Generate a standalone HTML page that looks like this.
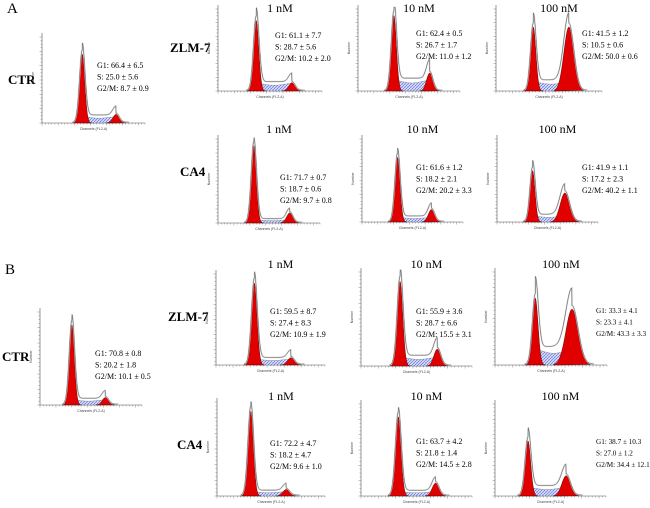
<!DOCTYPE html>
<html><head><meta charset="utf-8">
<style>
html,body{margin:0;padding:0;background:#fff;}
svg{display:block;font-family:"Liberation Serif",serif;}
</style></head>
<body>
<svg id="fig" width="650" height="508" viewBox="0 0 650 508" xmlns="http://www.w3.org/2000/svg">
<defs>
<pattern id="hatch" width="3" height="3" patternUnits="userSpaceOnUse">
<rect width="3" height="3" fill="#dfe3ff"/>
<path d="M0,3 L3,0" stroke="#5566cc" stroke-width="0.6"/>
<path d="M0,0 L3,3" stroke="#8899dd" stroke-width="0.4"/>
</pattern>
</defs>
<text x="7" y="13" font-size="15">A</text>
<text x="5" y="274" font-size="15">B</text>
<text x="8" y="84" font-size="13" font-weight="bold">CTR</text>
<text x="170" y="52" font-size="13" font-weight="bold">ZLM-7</text>
<text x="180" y="176" font-size="13" font-weight="bold">CA4</text>
<text x="2" y="361" font-size="13" font-weight="bold">CTR</text>
<text x="168" y="321" font-size="13" font-weight="bold">ZLM-7</text>
<text x="177" y="449" font-size="13" font-weight="bold">CA4</text>
<g id="panels"></g>
</svg>
<script>
const panelTitles = ["", "1 nM","10 nM","100 nM","1 nM","10 nM","100 nM", "", "1 nM","10 nM","100 nM","1 nM","10 nM","100 nM"];
const g1Values = ["66.4 ± 6.5","61.1 ± 7.7","62.4 ± 0.5","41.5 ± 1.2","71.7 ± 0.7","61.6 ± 1.2","41.9 ± 1.1","70.8 ± 0.8","59.5 ± 8.7","55.9 ± 3.6","33.3 ± 4.1","72.2 ± 4.7","63.7 ± 4.2","38.7 ± 10.3"];
const sValues = ["25.0 ± 5.6","28.7 ± 5.6","26.7 ± 1.7","10.5 ± 0.6","18.7 ± 0.6","18.2 ± 2.1","17.2 ± 2.3","20.2 ± 1.8","27.4 ± 8.3","28.7 ± 6.6","23.3 ± 4.1","18.2 ± 4.7","21.8 ± 1.4","27.0 ± 1.2"];
const g2Values = ["8.7 ± 0.9","10.2 ± 2.0","11.0 ± 1.2","50.0 ± 0.6","9.7 ± 0.8","20.2 ± 3.3","40.2 ± 1.1","10.1 ± 0.5","10.9 ± 1.9","15.5 ± 3.1","43.3 ± 3.3","9.6 ± 1.0","14.5 ± 2.8","34.4 ± 12.1"];
const g1Peak = [0.80,0.86,0.92,0.78,0.92,0.78,0.62,0.86,0.90,0.90,0.72,0.90,0.86,0.60];
const g1Chan = [50,47,45,45,45,45,45,40,45,45,46,40,43,38];
const g2Peak = [0.10,0.10,0.22,0.78,0.12,0.15,0.35,0.08,0.08,0.18,0.60,0.07,0.14,0.22];
const g2Chan = [92,91,90,88,90,88,86,82,88,88,88,82,86,82];
const sLevel = [0.08,0.10,0.14,0.12,0.04,0.06,0.08,0.06,0.07,0.10,0.18,0.05,0.05,0.10];
const g2Width = [4,4,4,6,4,4,6,4,4,4,7,4,4,5];

const layout = [
 [42,33,123,145,97,68,0],[218,5,91,322,275,38,12],[358,5,91,460,416,36,12],[496,5,91,602,582,36,12],
 [218,135,223,320,280,180,133],[362,135,222,463,416,170,133],[497,135,222,598,582,170,133],
 [40,308,405,142,95,356,0],[216,270,365,325,270,314,268],[361,268,366,472,416,314,268],[495,268,365,607,596,313,268],
 [217,398,496,325,270,446,400],[361,400,496,472,416,444,400],[495,400,496,606,596,444,400]
];

const NS="http://www.w3.org/2000/svg";
const root=document.getElementById('panels');
function mk(tag,attrs,parent){const e=document.createElementNS(NS,tag);for(const k in attrs)e.setAttribute(k,attrs[k]);parent.appendChild(e);return e;}
function gauss(c,m,s){return Math.exp(-0.5*((c-m)/s)**2);}

layout.forEach((L,i)=>{
  const [ax,top,base,right,tx,ty,titY]=L;
  const g=mk('g',{},root);
  
  
  const H=base-top-4;
  const xs=c=>ax+(c/128)*(right-ax);
  const ys=v=>base-v*H;
  const axis=mk('path',{d:`M${ax},${top} L${ax},${base} L${right},${base}`,stroke:'#555','stroke-width':0.6,fill:'none'},g);
  
  
  for(let k=0;k<=24;k++){const yy=base-k*H/24;mk('line',{x1:ax-(k%4==0?2.5:1.5),x2:ax,y1:yy,y2:yy,stroke:'#666','stroke-width':0.4},g);}
  for(let k=0;k<=32;k++){const xx=xs(k*4);mk('line',{x1:xx,x2:xx,y1:base,y2:base+(k%5==0?2.5:1.5),stroke:'#666','stroke-width':0.4},g);}
  const xl=mk('text',{x:(ax+right)/2,y:base+7,'font-size':3.5,'text-anchor':'middle',fill:'#444','font-family':'Liberation Sans, sans-serif'},g);
  xl.textContent='Channels (FL2-A)';
  
  
  const yl=mk('text',{x:ax-8,y:(top+base)/2,'font-size':3.5,'text-anchor':'middle',fill:'#444',transform:`rotate(-90 ${ax-8} ${(top+base)/2})`,'font-family':'Liberation Sans, sans-serif'},g);
  yl.textContent='Number';
  
  
  const m1=g1Chan[i],m2=g2Chan[i],w2=g2Width[i],w1=3.2;
  let sd=`M${xs(m1)},${base}`;
  for(let c=m1;c<=m2;c+=0.5){sd+=` L${xs(c)},${ys(sLevel[i]*(1-0.3*gauss(c,(m1+m2)/2,12)))}`;}
  sd+=` L${xs(m2)},${base} Z`;
  const sp=mk('path',{d:sd,fill:'url(#hatch)',stroke:'#555','stroke-width':0.3},g);
  
  
  let d1=`M${xs(m1-12)},${base}`;
  for(let c=m1-12;c<=m1+12;c+=0.25)d1+=` L${xs(c)},${ys(g1Peak[i]*gauss(c,m1,w1))}`;
  d1+=' Z';
  const p1=mk('path',{d:d1,fill:'#e00000',stroke:'#300','stroke-width':0.4},g);
  
  
  let d2=`M${xs(m2-3*w2)},${base}`;
  for(let c=m2-3*w2;c<=m2+3*w2;c+=0.25)d2+=` L${xs(c)},${ys(g2Peak[i]*gauss(c,m2,w2))}`;
  d2+=' Z';
  const p2=mk('path',{d:d2,fill:'#e00000',stroke:'#300','stroke-width':0.4},g);
  
  
  let de='';
  for(let c=m1-12;c<=m2+3*w2+4;c+=0.25){
    let v=g1Peak[i]*gauss(c,m1,w1+0.2)+g2Peak[i]*gauss(c,m2,w2);
    if(c>m1&&c<m2)v+=sLevel[i];
    v=v*1.05+0.01;
    de+=(de?' L':'M')+xs(c)+','+ys(Math.min(v,1.02));
  }
  mk('path',{d:de,fill:'none',stroke:'#c8c8c8','stroke-width':1.4},g);
  const env=mk('path',{d:de,fill:'none',stroke:'#333','stroke-width':0.35},g);
  
  
  if(panelTitles[i]){const t=mk('text',{x:(ax+right)/2+10,y:titY,'font-size':12,'text-anchor':'middle'},g);t.textContent=panelTitles[i];
    
    }
  [['G1: ',g1Values[i]],['S: ',sValues[i]],['G2/M: ',g2Values[i]]].forEach((s,k)=>{
    const t=mk('text',{x:tx,y:ty+k*11.5,'font-size':(tx>590?7.2:8)},g);t.textContent=s[0]+s[1];
    
    
  });
});
</script>
</body></html>
